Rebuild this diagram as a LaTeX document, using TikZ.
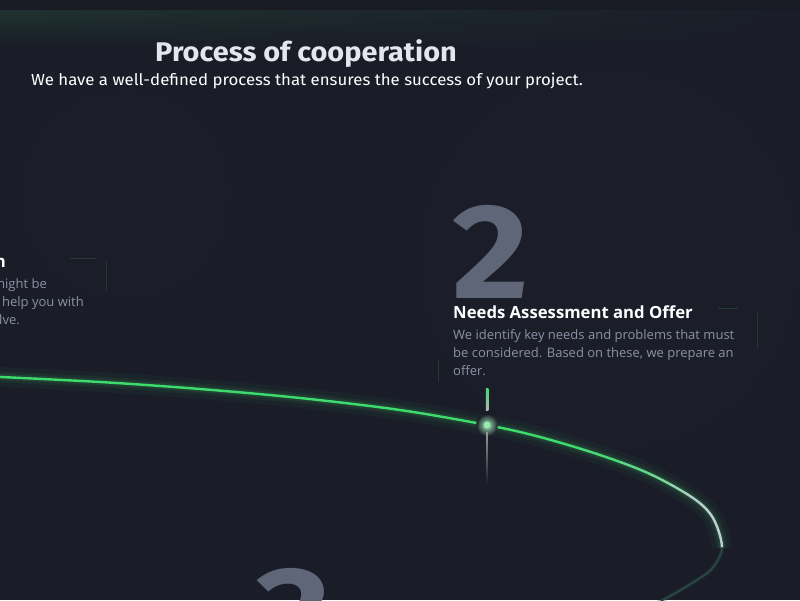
\documentclass[tikz,border=0pt]{standalone}
\usepackage{fontspec}
\setmainfont{Open Sans}
\newfontfamily\headfont{Fira Sans}
\usetikzlibrary{positioning, fadings}

\definecolor{pagebg}{HTML}{1A1D28}
\definecolor{topband}{HTML}{181B24}
\definecolor{topglow}{HTML}{203330}
\definecolor{headwhite}{HTML}{E4E6EC}
\definecolor{bodygray}{HTML}{8A92A5}
\definecolor{numgray}{HTML}{5E6677}
\definecolor{orbitgreen}{HTML}{3EDC6C}
\definecolor{orbitsilver}{HTML}{C4CCD8}
\definecolor{orbitteal}{HTML}{2B4D45}
\definecolor{cardedge}{HTML}{263A34}

\tikzstyle{heading} = [
    inner sep=0pt,
    text=headwhite,
    xscale=1.07,
    font=\headfont\bfseries\fontsize{27}{30}\selectfont
]
\tikzstyle{subheading} = [
    inner sep=0pt,
    text=white,
    xscale=1.05,
    font=\headfont\fontsize{16}{18}\selectfont
]
\tikzstyle{cardtitle} = [
    inner sep=0pt,
    text=white,
    font=\bfseries\fontsize{16.7}{19}\selectfont
]
\tikzstyle{cardtext} = [
    inner sep=0pt,
    text=bodygray,
    font=\fontsize{13}{18}\selectfont
]
\tikzstyle{bignum} = [
    inner sep=0pt,
    text=numgray,
    xscale=1.1,
    font=\headfont\bfseries\fontsize{135}{140}\selectfont
]
\tikzstyle{nextline} = [below=18pt of #1.base west, anchor=base west]
\tikzstyle{prevline} = [below=18pt of #1.base east, anchor=base east]

\begin{document}
\begin{tikzpicture}[x=1pt, y=-1pt]

\useasboundingbox (0,0) rectangle (800,600);
\clip (0,0) rectangle (800,600);

% background
\fill[pagebg] (0,0) rectangle (800,600);
\fill[topband] (0,0) rectangle (800,10);
\shade[top color=topglow, bottom color=pagebg, path fading=east] (0,10) rectangle (800,50);
\fill[white, opacity=0.006] (125,195) circle (105);
\fill[white, opacity=0.006] (610,260) circle (190);

% heading
\node (title) [heading, anchor=base] at (306,61) {Process of cooperation};
\node (subtitle) [subheading, anchor=base] at (307,85.5)
{We have a well-defined process that ensures the success of your project.};

% card 1 (cut off on the left)
\node (c1title) [cardtitle, anchor=base east] at (6,267) {n};
\node (c1line1) [cardtext, anchor=base east] at (47,288) {might be};
\node (c1line2) [cardtext, prevline=c1line1, xshift=37pt] {help you with};
\node (c1line3) [cardtext, anchor=base east] at (20,324) {lve.};
\draw[cardedge, line width=0.8pt] (70,258) -- (96,258);
\draw[cardedge, line width=0.8pt] (106,262) -- (106,290);

% card 2
\node (two) [bignum, anchor=base west] at (452.5,298) {2};
\node (c2title) [cardtitle, anchor=base west] at (453,318) {Needs Assessment and Offer};
\node (c2line1) [cardtext, nextline=c2title, yshift=-3pt]
{We identify key needs and problems that must};
\node (c2line2) [cardtext, nextline=c2line1] {be considered. Based on these, we prepare an};
\node (c2line3) [cardtext, nextline=c2line2] {offer.};
\draw[cardedge, line width=0.8pt] (718,308) -- (738,308);
\draw[cardedge, line width=0.8pt] (757,313) -- (757,348);
\draw[cardedge, line width=0.8pt] (438,360) -- (438,382);

% card 3 (cut off at the bottom)
\node (three) [bignum, anchor=base west] at (255,661) {3};

% orbit
\def\orbit{plot[smooth, tension=0.55] coordinates {(-20,376) (100,382) (200,389)
  (300,398) (400,410) (487,425) (540,437) (600,455) (650,474) (693,498)
  (713,518) (722,547) (714,566) (700,578) (663,600) (630,615)}}

\begin{scope}
\clip (0,0) rectangle (800,547);
\draw[orbitgreen, line width=20pt, opacity=0.04] \orbit;
\draw[orbitgreen, line width=11pt, opacity=0.07] \orbit;
\draw[orbitgreen, line width=6pt, opacity=0.1] \orbit;
\end{scope}

\foreach \xa/\xb/\mix in {-30/580/100, 580/620/90, 620/650/75, 650/670/55,
                          670/685/35, 685/700/15, 700/730/0} {
  \begin{scope}
  \clip (\xa,0) rectangle (\xb,547);
  \draw[orbitgreen!\mix!orbitsilver, line width=2.4pt] \orbit;
  \end{scope}
}

\begin{scope}
\clip (0,547) rectangle (800,600);
\draw[orbitteal, line width=4pt, opacity=0.3] \orbit;
\draw[orbitteal, line width=1.4pt] \orbit;
\end{scope}

% point on the orbit
\node (stop2) [circle, minimum size=22pt, inner sep=0pt,
  shading=radial, inner color=orbitgreen!45!white, outer color=pagebg] at (487,425) {};
\fill[orbitgreen!55!white] (stop2.center) circle (3.5);
\shade[top color=orbitgreen, bottom color=gray!60] (485.8,388) rectangle (488.4,410);
\shade[top color=gray!80, bottom color=pagebg] (486.4,432) rectangle (487.8,484);

\end{tikzpicture}
\end{document}
